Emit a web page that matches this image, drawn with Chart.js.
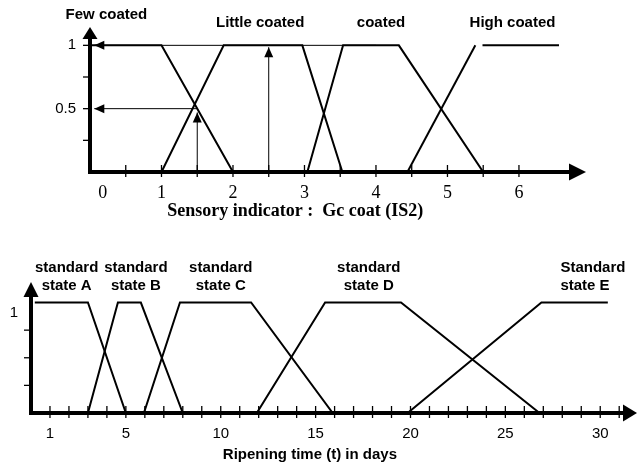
<!DOCTYPE html>
<html>
<head>
<meta charset="utf-8">
<script src="https://cdn.jsdelivr.net/npm/chart.js@4.4.1/dist/chart.umd.min.js"></script>
<style>
  body { margin: 0; background: #fff; }
  canvas { display: block; }
</style>
</head>
<body>
<canvas id="coatChart" width="637" height="230"></canvas>
<canvas id="ripenChart" width="637" height="237"></canvas>
<script>
// --- top: sensory indicator Gc coat (IS2) ---
const coatNames = ["Few coated", "Little coated", "coated", "High coated"];
const fewCoated = [[0, 1], [1, 1], [2, 0]];
const littleCoated = [[1, 0], [1.87, 1], [2.97, 1], [3.53, 0]];
const coatedSet = [[3.04, 0], [3.54, 1], [4.32, 1], [5.5, 0]];
const highCoatedRise = [[4.44, 0], [5.39, 1]];
const highCoatedTop = [[5.49, 1], [6.56, 1]];
const coatNameAt = [[0.23, 1.24], [2.38, 1.18], [4.07, 1.18], [5.91, 1.18]];
// reading example (input 1.5 -> 0.5, input 2.5 -> 1)
const readArrows = [
    [[4, 1], [0.06, 1]],
    [[1.5, 0.5], [0.06, 0.5]],
    [[1.5, 0], [1.5, 0.47]],
    [[2.5, 0], [2.5, 0.985]],
];
const coatXLabels = ["0", "1", "2", "3", "4", "5", "6"];
const coatXLabelAt = [0.18, 1, 2, 3, 4, 5, 6];
const coatXMarks = [0.5, 1, 1.5, 2, 2.5, 3, 3.5, 4, 4.5, 5, 5.5, 6];
const coatYTicks = [0.25, 0.5, 0.75, 1];
const coatYLabels = ["", "0.5", "", "1"];

// --- bottom: ripening time in days ---
const stateNames = [
    ["standard", "state A"],
    ["standard", "state B"],
    ["standard", "state C"],
    ["standard", "state D"],
    ["Standard", "state E"],
];
const stateA = [[0.2, 1], [3, 1], [5, 0]];
const stateB = [[3, 0], [4.58, 1], [5.79, 1], [8, 0]];
const stateC = [[5.95, 0], [7.85, 1], [11.6, 1], [15.9, 0]];
const stateD = [[11.9, 0], [15.5, 1], [19.5, 1], [26.8, 0]];
const stateE = [[19.85, 0], [26.9, 1], [30.4, 1]];
const stateNameAt = [1.88, 5.53, 10.0, 17.8, 27.9];
const stateNameAlign = ["center", "center", "center", "center", "left"];
const dayLabels = [1, 5, 10, 15, 20, 25, 30];
const dayMarks = [];
for (let d = 1; d <= 31; d++) dayMarks.push(d);

const SANS = "'Liberation Sans', Arial, sans-serif";
const SERIF = "'Liberation Serif', 'Times New Roman', serif";

function pts(arr) {
    return arr.map((p) => ({ x: p[0], y: p[1] }));
}

function curve(arr, width, arrow) {
    return {
        data: pts(arr),
        showLine: true,
        borderColor: "#000",
        borderWidth: width,
        pointRadius: 0,
        tension: 0,
        arrow: !!arrow,
    };
}

function arrowHead(ctx, x0, y0, x1, y1, len, halfW) {
    const ang = Math.atan2(y1 - y0, x1 - x0);
    const bx = x1 - Math.cos(ang) * len, by = y1 - Math.sin(ang) * len;
    const nx = -Math.sin(ang) * halfW, ny = Math.cos(ang) * halfW;
    ctx.beginPath();
    ctx.moveTo(x1, y1);
    ctx.lineTo(bx + nx, by + ny);
    ctx.lineTo(bx - nx, by - ny);
    ctx.closePath();
    ctx.fill();
}

const decor = {
    id: "decor",
    afterDraw(chart, args, o) {
        const ctx = chart.ctx, a = chart.chartArea;
        const xs = chart.scales.x, ys = chart.scales.y;
        ctx.save();
        ctx.fillStyle = "#000";
        ctx.strokeStyle = "#000";

        // tick marks
        ctx.lineWidth = 1.3;
        o.xMarks.forEach((v) => {
            const px = xs.getPixelForValue(v);
            ctx.beginPath();
            ctx.moveTo(px, a.bottom - 7);
            ctx.lineTo(px, a.bottom + 5);
            ctx.stroke();
        });
        o.yMarks.forEach((v) => {
            const py = ys.getPixelForValue(v);
            ctx.beginPath();
            ctx.moveTo(a.left - 7, py);
            ctx.lineTo(a.left, py);
            ctx.stroke();
        });

        // axis arrows
        arrowHead(ctx, a.right, a.bottom, a.right + o.xArrow, a.bottom, o.xArrow, 8.5);
        arrowHead(ctx, a.left, a.top, a.left, a.top - o.yArrow, o.yArrow, 7.5);

        // arrowheads on the reading lines
        chart.data.datasets.forEach((ds) => {
            if (!ds.arrow) return;
            const n = ds.data.length;
            const p0 = ds.data[n - 2], p1 = ds.data[n - 1];
            arrowHead(ctx,
                xs.getPixelForValue(p0.x), ys.getPixelForValue(p0.y),
                xs.getPixelForValue(p1.x), ys.getPixelForValue(p1.y), 10, 4.5);
        });

        // set names
        ctx.font = "bold 15px " + SANS;
        ctx.textBaseline = "middle";
        o.names.forEach((name, i) => {
            const lines = Array.isArray(name) ? name : [name];
            const px = xs.getPixelForValue(o.nameAt[i][0]);
            const py = ys.getPixelForValue(o.nameAt[i][1]);
            ctx.textAlign = o.nameAlign ? o.nameAlign[i] : "center";
            lines.forEach((t, j) => ctx.fillText(t, px, py + j * 18));
        });

        // axis title
        ctx.font = o.titleFont;
        ctx.textAlign = "center";
        ctx.fillText(o.title, xs.getPixelForValue(o.titleAt), a.bottom + o.titleDy);
        ctx.restore();
    },
};

function axisBase(min, max) {
    return {
        type: "linear",
        min: min,
        max: max,
        grid: { display: false, drawTicks: false },
        border: { display: true, width: 4, color: "#000" },
    };
}

// top chart
const coatX = axisBase(0, 6.7);
coatX.afterBuildTicks = (s) => { s.ticks = coatXLabelAt.map((v) => ({ value: v })); };
coatX.afterFit = (s) => { s.height = 58; };
coatX.ticks = {
    color: "#000",
    padding: 10,
    maxRotation: 0,
    autoSkip: false,
    font: { family: SERIF, size: 18 },
    callback: (v, i) => coatXLabels[i],
};
const coatY = axisBase(0, 1.05);
coatY.afterBuildTicks = (s) => { s.ticks = coatYTicks.map((v) => ({ value: v })); };
coatY.afterFit = (s) => { s.width = 90; };
coatY.ticks = {
    color: "#000",
    padding: 14,
    font: { family: SANS, size: 15 },
    callback: (v, i) => coatYLabels[i],
};

new Chart(document.getElementById("coatChart"), {
    type: "scatter",
    data: {
        datasets: [
            curve(fewCoated, 2),
            curve(littleCoated, 2),
            curve(coatedSet, 2),
            curve(highCoatedRise, 2),
            curve(highCoatedTop, 2),
            ...readArrows.map((r) => curve(r, 1, true)),
        ],
    },
    options: {
        responsive: false,
        animation: false,
        layout: { padding: { top: 39, right: 68, left: 0, bottom: 0 } },
        scales: { x: coatX, y: coatY },
        plugins: {
            legend: { display: false },
            tooltip: { enabled: false },
            decor: {
                xMarks: coatXMarks,
                yMarks: coatYTicks,
                xArrow: 17,
                yArrow: 12,
                names: coatNames,
                nameAt: coatNameAt,
                title: "Sensory indicator :  Gc coat (IS2)",
                titleFont: "bold 18px " + SERIF,
                titleAt: 2.87,
                titleDy: 39,
            },
        },
    },
    plugins: [decor],
});

// bottom chart
const dayX = axisBase(0, 31.2);
dayX.afterBuildTicks = (s) => { s.ticks = dayLabels.map((v) => ({ value: v })); };
dayX.afterFit = (s) => { s.height = 54; };
dayX.ticks = {
    color: "#000",
    padding: 12,
    maxRotation: 0,
    autoSkip: false,
    font: { family: SANS, size: 15 },
};
const dayY = axisBase(0, 1.05);
dayY.afterBuildTicks = (s) => { s.ticks = [{ value: 1 }]; };
dayY.afterFit = (s) => { s.width = 31; };
dayY.ticks = {
    color: "#000",
    padding: 13,
    labelOffset: 10,
    font: { family: SANS, size: 15 },
};

new Chart(document.getElementById("ripenChart"), {
    type: "scatter",
    data: {
        datasets: [stateA, stateB, stateC, stateD, stateE].map((s) => curve(s, 2)),
    },
    options: {
        responsive: false,
        animation: false,
        layout: { padding: { top: 67, right: 14, left: 0, bottom: 0 } },
        scales: { x: dayX, y: dayY },
        plugins: {
            legend: { display: false },
            tooltip: { enabled: false },
            decor: {
                xMarks: dayMarks,
                yMarks: [0.25, 0.5, 0.75],
                xArrow: 14,
                yArrow: 15,
                names: stateNames,
                nameAt: stateNameAt.map((v) => [v, 1.31]),
                nameAlign: stateNameAlign,
                title: "Ripening time (t) in days",
                titleFont: "bold 15px " + SANS,
                titleAt: 14.7,
                titleDy: 42,
            },
        },
    },
    plugins: [decor],
});
</script>
</body>
</html>
